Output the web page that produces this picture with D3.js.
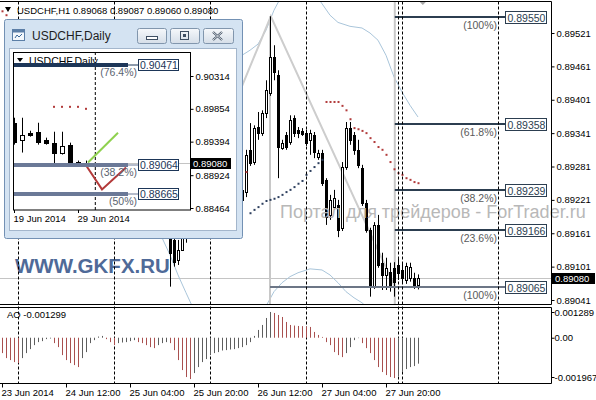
<!DOCTYPE html>
<meta charset="utf-8">
<script src="https://d3js.org/d3.v7.min.js"></script>
<style>
body { margin: 0; background: #fff; }
text { font-family: "Liberation Sans", Arial, sans-serif; }
</style>
<body>
<div id="chart"></div>
<script>

// ---- H1 bars (bar 0 = 23 Jun 20:00), visible part starts at bar 40 ----
var firstBar = 40;
var opens  = [0.89190,0.89181,0.89162,0.89149,0.89113,0.89131,0.89162,0.89176,0.89185,0.89176,
              0.89194,0.89203,0.89190,0.89208,0.89215,0.89203,0.89221,0.89224,0.89210,0.89230,
              0.89239,0.89235,0.89311,0.89289,0.89352,0.89341,0.89377,0.89413,0.89478,0.89445,
              0.89314,0.89338,0.89325,0.89368,0.89347,0.89345,0.89341,0.89329,0.89338,0.89298,
              0.89305,0.89257,0.89194,0.89208,0.89212,0.89171,0.89280,0.89350,0.89338,0.89311,
              0.89278,0.89215,0.89167,0.89065,0.89176,0.89108,0.89086,0.89092,0.89099,0.89104,
              0.89095,0.89077,0.89081,0.89081,0.89068];
var highs  = [0.89199,0.89185,0.89167,0.89154,0.89149,0.89171,0.89185,0.89194,0.89203,0.89199,
              0.89212,0.89210,0.89215,0.89224,0.89221,0.89226,0.89235,0.89230,0.89239,0.89248,
              0.89248,0.89311,0.89359,0.89355,0.89379,0.89382,0.89436,0.89551,0.89499,0.89454,
              0.89329,0.89343,0.89373,0.89373,0.89352,0.89350,0.89347,0.89347,0.89343,0.89311,
              0.89311,0.89260,0.89230,0.89239,0.89221,0.89289,0.89361,0.89361,0.89343,0.89329,
              0.89284,0.89221,0.89171,0.89181,0.89194,0.89126,0.89117,0.89108,0.89109,0.89117,
              0.89109,0.89108,0.89108,0.89090,0.89087];
var lows   = [0.89176,0.89162,0.89065,0.89101,0.89104,0.89131,0.89144,0.89162,0.89171,0.89167,
              0.89181,0.89185,0.89176,0.89194,0.89199,0.89194,0.89208,0.89203,0.89203,0.89215,
              0.89212,0.89226,0.89282,0.89284,0.89329,0.89336,0.89368,0.89408,0.89436,0.89260,
              0.89311,0.89311,0.89320,0.89334,0.89332,0.89336,0.89318,0.89302,0.89296,0.89293,
              0.89246,0.89176,0.89185,0.89203,0.89154,0.89165,0.89275,0.89320,0.89302,0.89278,
              0.89210,0.89162,0.89047,0.89061,0.89099,0.89059,0.89059,0.89056,0.89047,0.89077,
              0.89072,0.89070,0.89074,0.89061,0.89060];
var closes = [0.89181,0.89167,0.89126,0.89109,0.89131,0.89162,0.89176,0.89185,0.89176,0.89194,
              0.89203,0.89190,0.89208,0.89215,0.89203,0.89221,0.89224,0.89210,0.89230,0.89239,
              0.89221,0.89302,0.89287,0.89350,0.89341,0.89377,0.89418,0.89478,0.89451,0.89316,
              0.89323,0.89316,0.89364,0.89341,0.89341,0.89339,0.89323,0.89341,0.89307,0.89305,
              0.89251,0.89190,0.89221,0.89224,0.89167,0.89280,0.89350,0.89329,0.89311,0.89284,
              0.89215,0.89167,0.89065,0.89176,0.89104,0.89086,0.89099,0.89068,0.89074,0.89090,
              0.89081,0.89102,0.89101,0.89066,0.89080];

// Awesome Oscillator, bars 0..104
var aoValues = [-0.00077,-0.00102,-0.00112,-0.00122,-0.00127,-0.00102,-0.00077,-0.00057,-0.00037,-0.00022,
                -0.00017,-0.00007,-0.00004,-0.00027,-0.00047,-0.00087,-0.00112,-0.00127,-0.00137,-0.00147,
                -0.00102,-0.00072,-0.00027,-0.00012,0.00006,0.00009,-0.00007,-0.00022,-0.00037,-0.00027,
                -0.00024,-0.00022,-0.00017,-0.00012,-0.00022,-0.00027,-0.00037,-0.00047,-0.00052,-0.00037,
                -0.00027,-0.00022,-0.00027,-0.00062,-0.00112,-0.00162,-0.00197,-0.00207,-0.00177,-0.00147,
                -0.00122,-0.00107,-0.00087,-0.00077,-0.00072,-0.00064,-0.00062,-0.00059,-0.00057,-0.00052,
                -0.00047,-0.00037,-0.00022,0.00009,0.00039,0.00064,0.00099,0.00129,0.00124,0.00114,
                0.00104,0.00079,0.00064,0.00061,0.00059,0.00058,0.00056,0.00054,0.00029,0.00014,
                0.00004,-0.00022,-0.00037,-0.00072,-0.00087,-0.00097,-0.00077,-0.00047,-0.00012,-0.00002,
                -0.00027,-0.00052,-0.00077,-0.00112,-0.00147,-0.00172,-0.00187,-0.00197,-0.00202,-0.00192,
                -0.00172,-0.00157,-0.00147,-0.00142,-0.00130];

// Parabolic SAR dots [bar, price]
var sarAbove = [[0,0.89560],[1,0.89553],[61,0.89271],
  [81,0.89397],[82,0.89397],[83,0.89397],[84,0.89397],[85,0.89390],[86,0.89382],[87,0.89366],
  [88,0.89350],[89,0.89348],[90,0.89345],[91,0.89341],[92,0.89332],[93,0.89325],[94,0.89316],
  [95,0.89311],[96,0.89302],[97,0.89289],[98,0.89276],[99,0.89269],[100,0.89266],[101,0.89260],
  [102,0.89257],[103,0.89253],[104,0.89251]];
var sarBelow = [[62,0.89197],[63,0.89203],[64,0.89208],[65,0.89214],[66,0.89219],[67,0.89221],
  [68,0.89223],[69,0.89226],[70,0.89230],[71,0.89235],[72,0.89239],[73,0.89244],[74,0.89250],
  [75,0.89255],[76,0.89266],[77,0.89273],[78,0.89280],[79,0.89287],[80,0.89293]];

// Bollinger bands [bar, price]
var bbUpper = [[58,0.89469],[60,0.89481],[62,0.89490],[64,0.89501],[66,0.89526],[68,0.89562],
  [70,0.89589],[72,0.89607],[76,0.89607],[79,0.89584],[82,0.89553],[84,0.89540],[87,0.89533],
  [90,0.89530],[92,0.89521],[94,0.89508],[96,0.89481],[98,0.89442],[100,0.89415],[102,0.89391],[104,0.89370]];
var bbLower = [[34,0.89194],[36,0.89181],[38,0.89169],[40,0.89153],[42,0.89122],[44,0.89086],
  [46,0.89054],[48,0.89023],[60,0.88987],[64,0.89009],[66,0.89030],[68,0.89056],[70,0.89072],
  [72,0.89083],[74,0.89090],[77,0.89097],[80,0.89095],[82,0.89086],[84,0.89072],[86,0.89056],
  [88,0.89045],[90,0.89036],[92,0.89023]];

// trend line object [bar, price]
var trendLine = [[59,0.89408],[67.2,0.89551],[98.2,0.89065]];

// Fibonacci levels
var fibPrices = [0.89550,0.89358,0.89239,0.89166];
var fibNames  = ["(100%)","(61.8%)","(38.2%)","(23.6%)"];
var fibLowPrice = 0.89065, fibLowName = "(100%)";
var fibStartBar = 98.2, fibLowStartBar = 67, fibEndBar = 125.75;

var priceTicks = [0.89521,0.89461,0.89401,0.89341,0.89281,0.89221,0.89161,0.89101,0.89041];
var aoTicks = [0.001289, 0, -0.001967];
var aoTickLabels = ["0.001289","0.00","-0.001967"];
var timeTicks = [0,16,32,48,64,80,96];
var timeLabels = ["23 Jun 2014","24 Jun 12:00","25 Jun 04:00","25 Jun 20:00","26 Jun 12:00","27 Jun 04:00","27 Jun 20:00"];
var separators = [4,28,52,76,99,100,124];
var bid = 0.89080;

// ---- inset: USDCHF Daily ----
var dOpens  = [0.89659,0.89422,0.89519,0.89533,0.89422,0.89380,0.89241,0.89352,0.89115,0.89101];
var dHighs  = [0.89729,0.89729,0.89547,0.89659,0.89450,0.89533,0.89533,0.89380,0.89129,0.89129];
var dLows   = [0.89352,0.89241,0.89464,0.89352,0.89352,0.89073,0.89213,0.89045,0.89073,0.89073];
var dCloses = [0.89394,0.89492,0.89492,0.89394,0.89380,0.89241,0.89338,0.89101,0.89087,0.89080];
var dSar = [[5,0.89882],[6,0.89882],[7,0.89882],[8,0.89882],[9,0.89854]];
var dFibPrices = [0.90471,0.89064,0.88665];
var dFibNames  = ["(76.4%)","(38.2%)","(50%)"];
var dPriceTicks = [0.90314,0.89854,0.89394,0.88924,0.88464];
var dTimeTicks = [0,8];
var dTimeLabels = ["19 Jun 2014","29 Jun 2014"];
var dGreenLine = [[9.25,0.89101],[13,0.89519]];
var dRedLine = [[9.1,0.89045],[11,0.88725],[14,0.89031]];

// ---------------------------------------------------------------
var svg = d3.select("#chart").append("svg")
    .attr("width", 596).attr("height", 400);

var plotRight = 551, mainTop = 1.5, mainBottom = 304.5, aoTop = 307.5, aoBottom = 383.5;

var x = d3.scaleLinear().domain([0, 104]).range([2, 418]);
var y = d3.scaleLinear().domain([0.89521, 0.89041]).range([33, 300]);
var yAo = d3.scaleLinear().domain([0.001289, -0.001967]).range([312, 377]);

var defs = svg.append("defs");
defs.append("clipPath").attr("id", "clipMain").append("rect")
    .attr("x", 0).attr("y", mainTop).attr("width", plotRight).attr("height", mainBottom - mainTop);
defs.append("clipPath").attr("id", "clipAo").append("rect")
    .attr("x", 0).attr("y", aoTop).attr("width", plotRight).attr("height", aoBottom - aoTop);

var main = svg.append("g").attr("clip-path", "url(#clipMain)");

// watermarks
main.append("text").attr("x", 15).attr("y", 273)
    .style("font-size", "20.5px").style("font-weight", "bold").attr("fill", "#4f6a98")
    .text("WWW.GKFX.RU");
svg.append("text").attr("x", 280).attr("y", 218)
    .style("font-size", "18px").attr("fill", "#b8b8b8")
    .text("Портал для трейдеров - ForTrader.ru");

// bid line
main.append("line").attr("x1", 0).attr("x2", plotRight)
    .attr("y1", Math.round(y(bid)) + 0.5).attr("y2", Math.round(y(bid)) + 0.5)
    .attr("stroke", "#c4c4c4");

// bollinger bands
var bandLine = d3.line().x(function(d){ return x(d[0]); }).y(function(d){ return y(d[1]); });
[bbUpper, bbLower].forEach(function(b) {
  main.append("path").attr("d", bandLine(b)).attr("fill", "none")
      .attr("stroke", "#a9c5da").attr("stroke-width", 1);
});

// trend line and fib verticals
main.append("path").attr("d", bandLine(trendLine)).attr("fill", "none")
    .attr("stroke", "#cdcdcd").attr("stroke-width", 2);
main.append("line").attr("x1", x(fibLowStartBar)).attr("x2", x(fibLowStartBar))
    .attr("y1", y(0.89551)).attr("y2", mainBottom).attr("stroke", "#c8c8c8").attr("stroke-width", 2);
main.append("line").attr("x1", x(fibStartBar)).attr("x2", x(fibStartBar))
    .attr("y1", 0).attr("y2", mainBottom).attr("stroke", "#c8c8c8").attr("stroke-width", 2);

// fibonacci lines
function fibLevel(g, x0, price, name, color) {
  var yy = Math.round(y(price));
  g.append("line").attr("x1", x0).attr("x2", x(fibEndBar))
      .attr("y1", yy).attr("y2", yy).attr("stroke", color).attr("stroke-width", 2);
  g.append("text").attr("x", x(124) - 1).attr("y", yy + 12)
      .attr("text-anchor", "end").style("font-size", "10.5px").attr("fill", "#5a5a5a")
      .text(name);
  g.append("rect").attr("x", x(fibEndBar) + 0.5).attr("y", yy - 5.5)
      .attr("width", 41).attr("height", 12).attr("fill", "#fff").attr("stroke", "#2c3e50");
  g.append("text").attr("x", x(fibEndBar) + 2.5).attr("y", yy + 4.5)
      .style("font-size", "10.5px").attr("fill", "#2c3e50")
      .text(d3.format(".5f")(price));
}
fibPrices.forEach(function(p, i) { fibLevel(svg, x(fibStartBar), p, fibNames[i], "#2c3e50"); });
fibLevel(svg, x(fibLowStartBar), fibLowPrice, fibLowName, "#6c7686");

// period separators
svg.selectAll(".sep").data(separators).enter().append("line")
    .attr("x1", function(d){ return x(d) + 0.5; }).attr("x2", function(d){ return x(d) + 0.5; })
    .attr("y1", mainTop).attr("y2", aoBottom)
    .attr("stroke", "#000").attr("stroke-dasharray", "3,2");

// candles
var bars = d3.range(opens.length);
var cg = main.append("g");
cg.selectAll(".wick").data(bars).enter().append("line")
    .attr("x1", function(i){ return x(i + firstBar) + 0.5; })
    .attr("x2", function(i){ return x(i + firstBar) + 0.5; })
    .attr("y1", function(i){ return y(highs[i]); })
    .attr("y2", function(i){ return y(lows[i]); })
    .attr("stroke", "#000");
cg.selectAll(".body").data(bars).enter().append("rect")
    .attr("x", function(i){ return x(i + firstBar) - 0.5; })
    .attr("width", 2)
    .attr("y", function(i){ return Math.round(y(Math.max(opens[i], closes[i]))) + 0.5; })
    .attr("height", function(i){ return Math.max(0.1, Math.round(Math.abs(y(opens[i]) - y(closes[i])))); })
    .attr("fill", function(i){ return closes[i] >= opens[i] ? "#fff" : "#000"; })
    .attr("stroke", "#000");

// SAR dots
main.selectAll(".sarA").data(sarAbove).enter().append("rect")
    .attr("x", function(d){ return x(d[0]) - 0.5; }).attr("y", function(d){ return y(d[1]) - 1; })
    .attr("width", 2).attr("height", 2).attr("fill", "#b23b3b");
main.selectAll(".sarB").data(sarBelow).enter().append("rect")
    .attr("x", function(d){ return x(d[0]) - 0.5; }).attr("y", function(d){ return y(d[1]) - 1; })
    .attr("width", 2).attr("height", 2).attr("fill", "#2d3f5e");

// small arrow object at top
main.append("path")
    .attr("d", d3.line()([[x(105.2) - 5, 0], [x(105.2) + 5, 0], [x(105.2), 5]]))
    .attr("fill", "#a8a8a8");

// AO histogram
var ao = svg.append("g").attr("clip-path", "url(#clipAo)");
ao.selectAll("line").data(aoValues).enter().append("line")
    .attr("x1", function(d, i){ return x(i) + 0.5; })
    .attr("x2", function(d, i){ return x(i) + 0.5; })
    .attr("y1", yAo(0))
    .attr("y2", function(d){ return yAo(d); })
    .attr("stroke", function(d, i){ return (i > 0 && d > aoValues[i - 1]) ? "#5e5e5e" : "#a9504f"; });

// panel borders
svg.append("line").attr("x1", 0).attr("x2", plotRight + 0.5).attr("y1", mainTop).attr("y2", mainTop).attr("stroke", "#000");
svg.append("line").attr("x1", 0).attr("x2", plotRight + 0.5).attr("y1", mainBottom).attr("y2", mainBottom).attr("stroke", "#000");
svg.append("line").attr("x1", 0).attr("x2", plotRight + 0.5).attr("y1", aoTop).attr("y2", aoTop).attr("stroke", "#000");
svg.append("line").attr("x1", 0).attr("x2", plotRight + 0.5).attr("y1", aoBottom).attr("y2", aoBottom).attr("stroke", "#000");
svg.append("line").attr("x1", plotRight + 0.5).attr("x2", plotRight + 0.5).attr("y1", mainTop).attr("y2", mainBottom).attr("stroke", "#000");
svg.append("line").attr("x1", plotRight + 0.5).attr("x2", plotRight + 0.5).attr("y1", aoTop).attr("y2", aoBottom).attr("stroke", "#000");

// axes
function styleAxis(g) {
  g.select(".domain").remove();
  g.selectAll("text").style("font-size", "9.5px").style("font-family", "Liberation Sans, Arial, sans-serif").attr("fill", "#000");
  g.selectAll("line").attr("stroke", "#000");
}
svg.append("g").attr("transform", "translate(" + (plotRight + 0.5) + ",0)")
    .call(d3.axisRight(y).tickValues(priceTicks).tickFormat(d3.format(".5f")).tickSize(3).tickPadding(2))
    .call(styleAxis);
svg.append("g").attr("transform", "translate(" + (plotRight + 0.5) + ",0)")
    .call(d3.axisRight(yAo).tickValues(aoTicks).tickFormat(function(d, i){ return aoTickLabels[i]; }).tickSize(3).tickPadding(0))
    .call(styleAxis);
var xAxis = svg.append("g").attr("transform", "translate(0," + aoBottom + ")")
    .call(d3.axisBottom(x).tickValues(timeTicks).tickFormat(function(d, i){ return timeLabels[i]; }).tickSize(4).tickPadding(2))
    .call(styleAxis);
xAxis.selectAll("text").attr("text-anchor", "start").attr("dx", "-1");

// bid label
var bidY = Math.round(y(bid));
svg.append("rect").attr("x", plotRight + 1).attr("y", bidY - 5).attr("width", 43).attr("height", 11).attr("fill", "#000");
svg.append("text").attr("x", plotRight + 4).attr("y", bidY + 4).style("font-size", "9.5px").attr("fill", "#fff")
    .text(d3.format(".5f")(bid));

// titles
svg.append("path").attr("d", "M5,7L11,7L8,12Z").attr("fill", "#000");
svg.append("text").attr("x", 17).attr("y", 14).style("font-size", "9.5px")
    .text("USDCHF,H1  0.89068 0.89087 0.89060 0.89080");
svg.append("text").attr("x", 7).attr("y", 318).style("font-size", "9.5px")
    .text("AO -0.001299");

// ---------------- inset window ----------------
var win = svg.append("g");
var grad = defs.append("linearGradient").attr("id", "btn").attr("x1", 0).attr("x2", 0).attr("y1", 0).attr("y2", 1);
grad.append("stop").attr("offset", "0%").attr("stop-color", "#f6f8fb");
grad.append("stop").attr("offset", "100%").attr("stop-color", "#d5dee8");

win.append("rect").attr("x", 4.5).attr("y", 19.5).attr("width", 238).attr("height", 219)
    .attr("rx", 2).attr("fill", "#d4e3f2").attr("stroke", "#7391b4");
win.append("rect").attr("x", 9.5).attr("y", 48.5).attr("width", 227).attr("height", 182)
    .attr("fill", "#fff").attr("stroke", "#a3b6cc");

// icon
win.append("rect").attr("x", 12.5).attr("y", 29.5).attr("width", 12).attr("height", 11)
    .attr("fill", "#f4f8fc").attr("stroke", "#5c7fa7");
win.append("rect").attr("x", 12.5).attr("y", 29.5).attr("width", 12).attr("height", 3).attr("fill", "#5c7fa7");
win.append("path").attr("d", "M15,38L17,35L19,37L22,34").attr("fill", "none").attr("stroke", "#3d6a99");
win.append("text").attr("x", 32).attr("y", 40).style("font-size", "12px").attr("fill", "#1e1e1e")
    .text("USDCHF,Daily");

// title buttons
[137, 170, 203].forEach(function(bx, k) {
  win.append("rect").attr("x", bx + 0.5).attr("y", 28.5).attr("width", k == 2 ? 30 : 29).attr("height", 15)
      .attr("rx", 2).attr("fill", "url(#btn)").attr("stroke", "#8196ad");
});
win.append("rect").attr("x", 146.5).attr("y", 36.5).attr("width", 11).attr("height", 3)
    .attr("fill", "#fff").attr("stroke", "#3f4f63");
win.append("rect").attr("x", 180.5).attr("y", 31.5).attr("width", 8).attr("height", 8)
    .attr("fill", "none").attr("stroke", "#3f4f63");
win.append("rect").attr("x", 183).attr("y", 34).attr("width", 3).attr("height", 3).attr("fill", "#3f4f63");
win.append("path").attr("d", "M213,32L222,40M222,32L213,40").attr("stroke", "#3f4f63").attr("stroke-width", 2.2);
win.append("path").attr("d", "M213,32L222,40M222,32L213,40").attr("stroke", "#fff").attr("stroke-width", 0.8);

var ix = d3.scaleLinear().domain([0, 8]).range([14, 78]);
var iy = d3.scaleLinear().domain([0.90314, 0.88464]).range([76, 208]);
defs.append("clipPath").attr("id", "clipIn").append("rect")
    .attr("x", 13.5).attr("y", 52.5).attr("width", 177).attr("height", 157.5);
var inner = win.append("g").attr("clip-path", "url(#clipIn)");

// inner title
inner.append("path").attr("d", "M17,58L23,58L20,62Z").attr("fill", "#000");
inner.append("text").attr("x", 29).attr("y", 65).style("font-size", "10.5px").text("USDCHF,Daily");

// bid line
inner.append("line").attr("x1", 13).attr("x2", 191).attr("y1", Math.round(iy(bid)) - 0.5).attr("y2", Math.round(iy(bid)) - 0.5)
    .attr("stroke", "#c4c4c4");

// separator
inner.append("line").attr("x1", ix(10.1) + 0.5).attr("x2", ix(10.1) + 0.5).attr("y1", 52).attr("y2", 210)
    .attr("stroke", "#000").attr("stroke-dasharray", "3,2");

// daily candles
var dBars = d3.range(dOpens.length);
inner.selectAll(".dw").data(dBars).enter().append("line")
    .attr("x1", function(k){ return ix(k) + 0.5; }).attr("x2", function(k){ return ix(k) + 0.5; })
    .attr("y1", function(k){ return iy(dHighs[k]); }).attr("y2", function(k){ return iy(dLows[k]); })
    .attr("stroke", "#000");
inner.selectAll(".db").data(dBars).enter().append("rect")
    .attr("x", function(k){ return ix(k) - 1.5; }).attr("width", 4)
    .attr("y", function(k){ return Math.round(iy(Math.max(dOpens[k], dCloses[k]))) + 0.5; })
    .attr("height", function(k){ return Math.max(0.1, Math.round(Math.abs(iy(dOpens[k]) - iy(dCloses[k])))); })
    .attr("fill", function(k){ return dCloses[k] >= dOpens[k] ? "#fff" : "#000"; })
    .attr("stroke", "#000");

inner.selectAll(".ds").data(dSar).enter().append("rect")
    .attr("x", function(d){ return ix(d[0]) - 1; }).attr("y", function(d){ return iy(d[1]) - 1; })
    .attr("width", 2).attr("height", 2).attr("fill", "#b23b3b");

var iLine = d3.line().x(function(d){ return ix(d[0]); }).y(function(d){ return iy(d[1]); });
inner.append("path").attr("d", iLine(dGreenLine)).attr("fill", "none").attr("stroke", "#8fd14f").attr("stroke-width", 2);
inner.append("path").attr("d", iLine(dRedLine)).attr("fill", "none").attr("stroke", "#b33a3a").attr("stroke-width", 2);

// inner fibonacci
dFibPrices.forEach(function(p, k) {
  var yy = Math.round(iy(p));
  var col = k == 0 ? "#1d3658" : "#6b7997";
  win.append("line").attr("x1", 13).attr("x2", 128).attr("y1", yy).attr("y2", yy)
      .attr("stroke", col).attr("stroke-width", 4);
  win.append("line").attr("x1", 128).attr("x2", 138).attr("y1", yy).attr("y2", yy)
      .attr("stroke", col).attr("stroke-width", 1);
  win.append("text").attr("x", 137).attr("y", yy + 11).attr("text-anchor", "end")
      .style("font-size", "10.5px").attr("fill", "#5a6470").text(dFibNames[k]);
  win.append("rect").attr("x", 138.5).attr("y", yy - 5.5).attr("width", 40).attr("height", 11)
      .attr("fill", "#fff").attr("stroke", "#1d3658");
  win.append("text").attr("x", 140).attr("y", yy + 4).style("font-size", "10.5px").attr("fill", "#1d3658")
      .text(d3.format(".5f")(p));
});

win.append("rect").attr("x", 13.5).attr("y", 52.5).attr("width", 177).attr("height", 157.5)
    .attr("fill", "none").attr("stroke", "#000");

win.append("g").attr("transform", "translate(190.5,0)")
    .call(d3.axisRight(iy).tickValues(dPriceTicks).tickFormat(d3.format(".5f")).tickSize(3).tickPadding(2))
    .call(styleAxis);
var ixAxis = win.append("g").attr("transform", "translate(0,210)")
    .call(d3.axisBottom(ix).tickValues(dTimeTicks).tickFormat(function(d, i){ return dTimeLabels[i]; }).tickSize(3).tickPadding(2))
    .call(styleAxis);
ixAxis.selectAll("text").attr("text-anchor", "start").attr("dx", "-1");

var dBidY = Math.round(iy(bid));
win.append("rect").attr("x", 190).attr("y", dBidY - 6).attr("width", 41).attr("height", 11).attr("fill", "#000");
win.append("text").attr("x", 193).attr("y", dBidY + 3).style("font-size", "9.5px").attr("fill", "#fff")
    .text(d3.format(".5f")(bid));

</script>
</body>
